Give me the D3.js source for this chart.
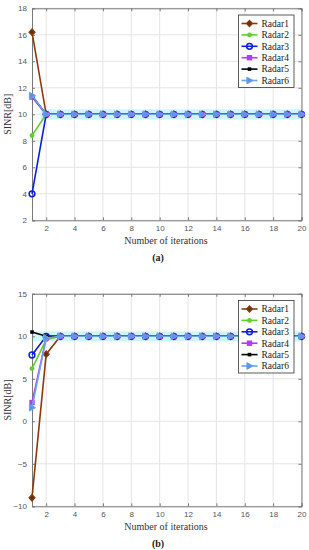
<!DOCTYPE html>
<html>
<head>
<meta charset="utf-8">
<script src="https://cdn.jsdelivr.net/npm/d3@7"></script>
<style>
  body { margin: 0; background: #fff; }
  svg { display: block; }
</style>
</head>
<body>
<svg id="chart" width="309" height="550"></svg>
<script>
// iterations 1..20
const iterations = d3.range(1, 21)
const seriesNames = ["Radar1", "Radar2", "Radar3", "Radar4", "Radar5", "Radar6"]

// panel (a): first values per radar, afterwards converged at 10 dB
const startA = {
  Radar1: [16.2, 10],
  Radar2: [8.4, 10],
  Radar3: [4.0, 10],
  Radar4: [11.3, 10],
  Radar5: [11.4, 10],
  Radar6: [11.4, 10]
}
// panel (b)
const startB = {
  Radar1: [-9.0, 7.9, 10],
  Radar2: [6.2, 9.6, 10],
  Radar3: [7.8, 10],
  Radar4: [2.2, 9.8, 10],
  Radar5: [10.5, 10],
  Radar6: [1.6, 9.8, 10]
}
const xTicks = [2, 4, 6, 8, 10, 12, 14, 16, 18, 20]
const yTicksA = [2, 4, 6, 8, 10, 12, 14, 16, 18]
const yTicksB = [-10, -5, 0, 5, 10, 15]

const styles = {
  Radar1: {color: "#8c3a0c", fill: "#5e3512", marker: "diamond"},
  Radar2: {color: "#5fd12a", fill: "#5fd12a", marker: "dot"},
  Radar3: {color: "#0a1ee0", fill: "none", marker: "circle"},
  Radar4: {color: "#b23cf0", fill: "#b23cf0", marker: "square"},
  Radar5: {color: "#000000", fill: "#000000", marker: "smallsquare"},
  Radar6: {color: "#6fa3ef", fill: "#5a94e8", marker: "triangle"}
}

function buildSeries(starts){
  return seriesNames.map(name => ({
    name,
    values: iterations.map((it, i) => ({x: it, y: i < starts[name].length ? starts[name][i] : 10}))
  }))
}

function drawMarker(g, type, st){
  if(type == "diamond"){
    g.append("path").attr("d", "M0,-3.2L3,0L0,3.2L-3,0Z")
      .attr("fill", st.fill).attr("stroke", st.color).attr("stroke-width", 1.2)
  } else if(type == "dot"){
    g.append("circle").attr("r", 2.4).attr("fill", st.fill)
  } else if(type == "circle"){
    g.append("circle").attr("r", 2.9).attr("fill", "none").attr("stroke", st.color).attr("stroke-width", 1.5)
  } else if(type == "square"){
    g.append("rect").attr("x", -2.7).attr("y", -2.7).attr("width", 5.4).attr("height", 5.4).attr("fill", st.fill)
  } else if(type == "smallsquare"){
    g.append("rect").attr("x", -1.8).attr("y", -1.8).attr("width", 3.6).attr("height", 3.6).attr("fill", st.fill)
  } else if(type == "triangle"){
    g.append("path").attr("d", "M-2.6,-3.4L3.6,0L-2.6,3.4Z").attr("fill", st.fill).attr("stroke", st.color).attr("stroke-width", 1)
  }
}

function panel(svg, opts){
  const x = d3.scaleLinear().domain([1, 20]).range([32, 301.5])
  const y = d3.scaleLinear().domain(opts.yDomain).range([opts.bottom, opts.top])
  const g = svg.append("g")

  // grid
  g.selectAll(".gx").data(xTicks).join("line")
    .attr("x1", d => x(d)).attr("x2", d => x(d))
    .attr("y1", opts.top).attr("y2", opts.bottom)
    .attr("stroke", "#e4e4e4").attr("stroke-width", 1)
  g.selectAll(".gy").data(opts.yTicks).join("line")
    .attr("x1", x(1)).attr("x2", x(20))
    .attr("y1", d => y(d)).attr("y2", d => y(d))
    .attr("stroke", "#e4e4e4").attr("stroke-width", 1)

  // light band behind the converged line
  g.append("rect")
    .attr("x", x(opts.bandFrom)).attr("width", x(20) - x(opts.bandFrom))
    .attr("y", y(10) - 5).attr("height", 10)
    .attr("fill", "#cdf6fb")

  // axes
  const axisColor = "#7a7a7a"
  const ax = g.append("g").attr("transform", `translate(0,${opts.bottom})`)
    .call(d3.axisBottom(x).tickValues(xTicks).tickSize(-3).tickPadding(5))
  const ay = g.append("g").attr("transform", "translate(32,0)")
    .call(d3.axisLeft(y).tickValues(opts.yTicks).tickSize(-3).tickPadding(5))
  const axTop = g.append("g").attr("transform", `translate(0,${opts.top})`)
    .call(d3.axisTop(x).tickValues(xTicks).tickSize(-3).tickFormat(""))
  const ayRight = g.append("g").attr("transform", "translate(301.5,0)")
    .call(d3.axisRight(y).tickValues(opts.yTicks).tickSize(-3).tickFormat(""))
  ;[ax, ay, axTop, ayRight].forEach(a => {
    a.select(".domain").attr("stroke", axisColor)
    a.selectAll(".tick line").attr("stroke", axisColor)
    a.selectAll("text").attr("fill", "#555").attr("font-family", "Liberation Sans, Arial, sans-serif").attr("font-size", 8)
  })

  // lines
  const line = d3.line().x(d => x(d.x)).y(d => y(d.y))
  opts.series.forEach(s => {
    const st = styles[s.name]
    g.append("path").datum(s.values)
      .attr("d", line).attr("fill", "none")
      .attr("stroke", st.color).attr("stroke-width", 1.6)
    g.selectAll(null).data(s.values).join("g")
      .attr("transform", d => `translate(${x(d.x)},${y(d.y)})`)
      .each(function(){ drawMarker(d3.select(this), st.marker, st) })
  })

  // labels
  const serif = "Liberation Serif, Times New Roman, serif"
  g.append("text")
    .attr("transform", `translate(11,${(opts.top + opts.bottom) / 2}) rotate(-90)`)
    .attr("text-anchor", "middle")
    .attr("font-family", serif).attr("font-size", 10)
    .attr("fill", "#333").text("SINR[dB]")
  g.append("text")
    .attr("x", 166).attr("y", opts.bottom + 24)
    .attr("text-anchor", "middle")
    .attr("font-family", serif).attr("font-size", 10)
    .attr("fill", "#333").text("Number of iterations")
  g.append("text")
    .attr("x", 158).attr("y", opts.bottom + 40.5)
    .attr("text-anchor", "middle")
    .attr("font-family", serif).attr("font-size", 10).attr("font-weight", "bold")
    .attr("fill", "#222").text(opts.caption)

  // legend
  const lg = g.append("g").attr("transform", `translate(238.5,${opts.legendTop})`)
  lg.append("rect").attr("width", 55.5).attr("height", 72.5)
    .attr("fill", "#fff").attr("stroke", "#333").attr("stroke-width", 0.8)
  seriesNames.forEach((name, i) => {
    const st = styles[name]
    const ly = 8.5 + i * 11.4
    lg.append("line").attr("x1", 3).attr("x2", 19).attr("y1", ly).attr("y2", ly)
      .attr("stroke", st.color).attr("stroke-width", 1.6)
    const m = lg.append("g").attr("transform", `translate(11,${ly})`)
    drawMarker(m, st.marker, st)
    lg.append("text").attr("x", 23).attr("y", ly + 3.3)
      .attr("font-family", serif).attr("font-size", 9.5)
      .attr("fill", "#222").text(name)
  })
}

const svg = d3.select("#chart")
panel(svg, {
  yDomain: [2, 18], yTicks: yTicksA, top: 8.3, bottom: 220.3,
  series: buildSeries(startA), caption: "(a)", legendTop: 15, bandFrom: 1.6
})
panel(svg, {
  yDomain: [-10, 15], yTicks: yTicksB, top: 293.8, bottom: 506.3,
  series: buildSeries(startB), caption: "(b)", legendTop: 300.5, bandFrom: 1
})
</script>
</body>
</html>
